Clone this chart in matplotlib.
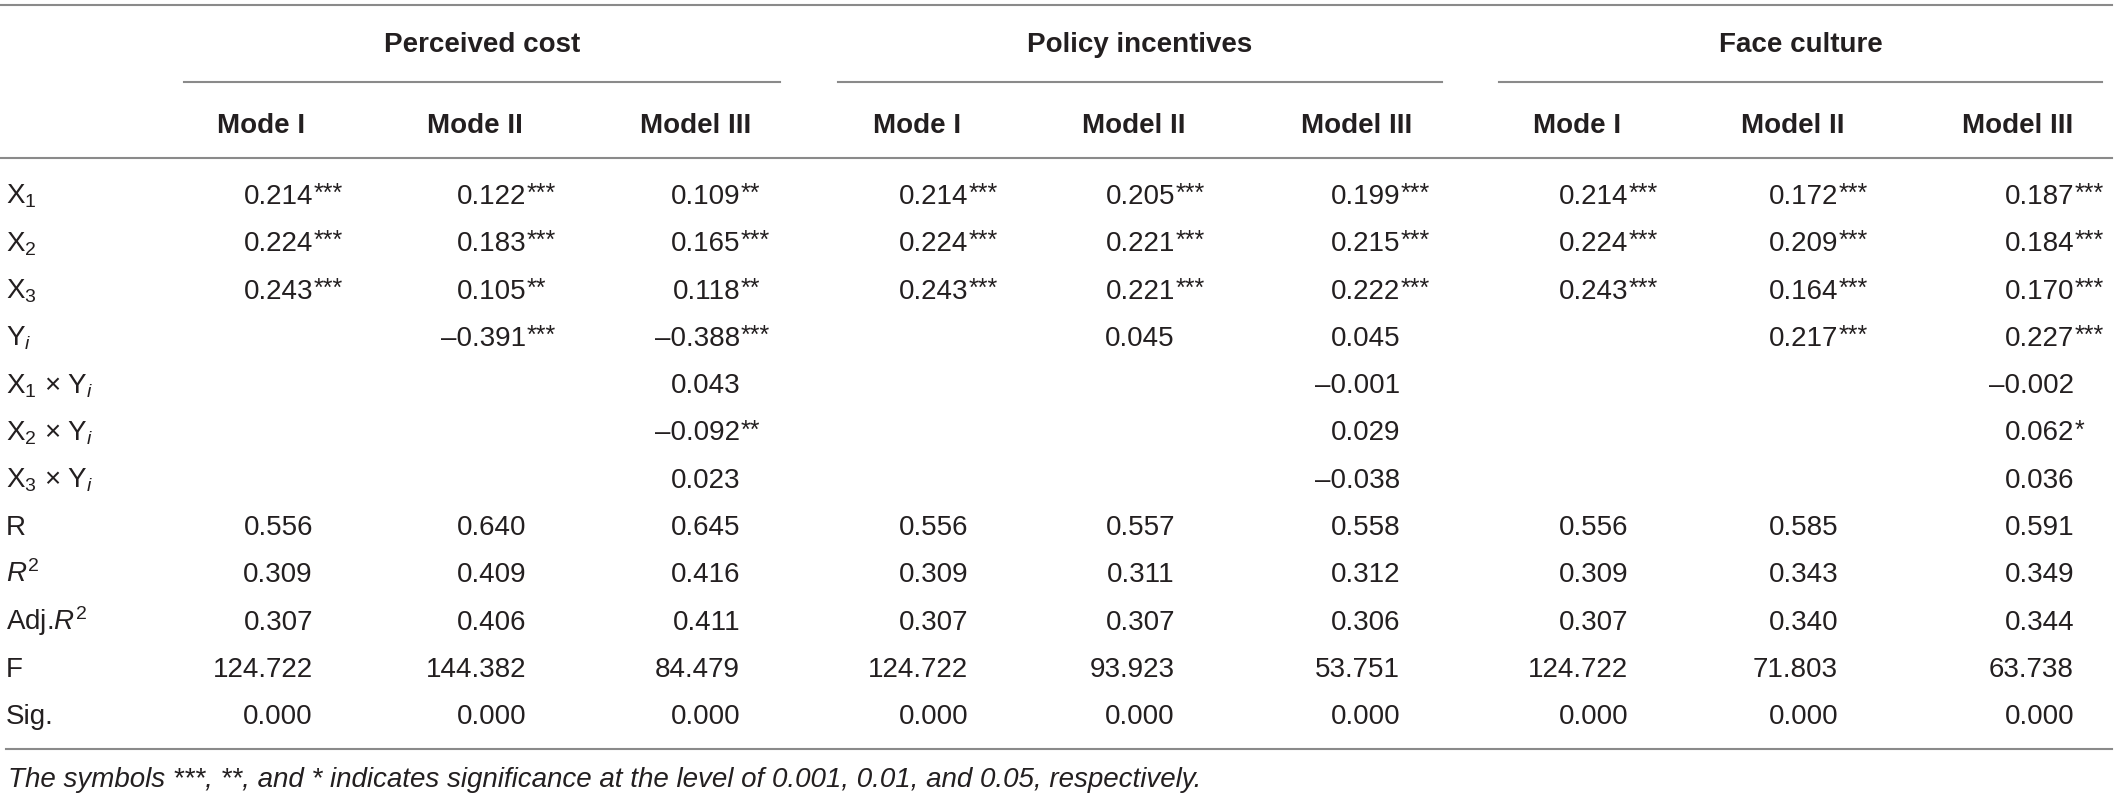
import matplotlib
matplotlib.use("Agg")
import matplotlib.pyplot as plt

# table content
groups = ["Perceived cost", "Policy incentives", "Face culture"]
models = ["Mode I", "Mode II", "Model III",
          "Mode I", "Model II", "Model III",
          "Mode I", "Model II", "Model III"]
row_labels = ["X$_1$", "X$_2$", "X$_3$", "Y$_i$",
              "X$_1$ \u00d7 Y$_i$", "X$_2$ \u00d7 Y$_i$", "X$_3$ \u00d7 Y$_i$",
              "R", "$R^2$", "Adj.$R^2$", "F", "Sig."]

# coefficients per model column (rows X1, X2, X3, Yi, X1xYi, X2xYi, X3xYi)
cost_coef = [[0.214, 0.224, 0.243, None, None, None, None],
             [0.122, 0.183, 0.105, -0.391, None, None, None],
             [0.109, 0.165, 0.118, -0.388, 0.043, -0.092, 0.023]]
cost_stars = [["***", "***", "***", "", "", "", ""],
              ["***", "***", "**", "***", "", "", ""],
              ["**", "***", "**", "***", "", "**", ""]]
policy_coef = [[0.214, 0.224, 0.243, None, None, None, None],
               [0.205, 0.221, 0.221, 0.045, None, None, None],
               [0.199, 0.215, 0.222, 0.045, -0.001, 0.029, -0.038]]
policy_stars = [["***", "***", "***", "", "", "", ""],
                ["***", "***", "***", "", "", "", ""],
                ["***", "***", "***", "", "", "", ""]]
face_coef = [[0.214, 0.224, 0.243, None, None, None, None],
             [0.172, 0.209, 0.164, 0.217, None, None, None],
             [0.187, 0.184, 0.170, 0.227, -0.002, 0.062, 0.036]]
face_stars = [["***", "***", "***", "", "", "", ""],
              ["***", "***", "***", "***", "", "", ""],
              ["***", "***", "***", "***", "", "*", ""]]

# model fit rows: R, R2, Adj.R2, F, Sig.
cost_fit = [[0.556, 0.309, 0.307, 124.722, 0.000],
            [0.640, 0.409, 0.406, 144.382, 0.000],
            [0.645, 0.416, 0.411, 84.479, 0.000]]
policy_fit = [[0.556, 0.309, 0.307, 124.722, 0.000],
              [0.557, 0.311, 0.307, 93.923, 0.000],
              [0.558, 0.312, 0.306, 53.751, 0.000]]
face_fit = [[0.556, 0.309, 0.307, 124.722, 0.000],
            [0.585, 0.343, 0.340, 71.803, 0.000],
            [0.591, 0.349, 0.344, 63.738, 0.000]]

note = ("The symbols ***, **, and * indicates significance at the level of "
        "0.001, 0.01, and 0.05, respectively.")

plt.rcParams["font.family"] = "Liberation Sans"
plt.rcParams["mathtext.fontset"] = "custom"
plt.rcParams["mathtext.rm"] = "Liberation Sans"
plt.rcParams["mathtext.it"] = "Liberation Sans:italic"
plt.rcParams["mathtext.bf"] = "Liberation Sans:bold"

W, H = 2118, 799
fig = plt.figure(figsize=(W / 100, H / 100), dpi=100)
ax = fig.add_axes([0, 0, 1, 1])
ax.set_xlim(0, W)
ax.set_ylim(H, 0)
ax.axis("off")

txt = "#231f20"
line_c = "#8a8a8a"
fs = 20

# layout (pixels)
col_right = [313, 526, 740, 968, 1175, 1400, 1628, 1838, 2074]
head_x = [261, 475, 696, 917, 1134, 1357, 1577, 1793, 2018]
group_span = [(184, 780), (838, 1442), (1499, 2102)]
row0, step = 204, 47.3

# rules
ax.plot([0, 2112], [5, 5], color=line_c, lw=1.5)
for a, b in group_span:
    ax.plot([a, b], [82, 82], color=line_c, lw=1.5)
ax.plot([0, 2112], [158, 158], color=line_c, lw=1.5)
ax.plot([6, 2112], [749, 749], color=line_c, lw=1.5)

# headers
for g, (a, b) in zip(groups, group_span):
    ax.text((a + b) / 2, 52, g, ha="center", va="baseline",
            fontsize=fs, fontweight="bold", color=txt)
for m, x in zip(models, head_x):
    ax.text(x, 133, m, ha="center", va="baseline",
            fontsize=fs, fontweight="bold", color=txt)

# row labels
for i, lab in enumerate(row_labels):
    ax.text(6, row0 + i * step, lab, ha="left", va="baseline",
            fontsize=fs, color=txt)


def fmt(v):
    s = "{:.3f}".format(abs(v))
    return ("\u2013" + s) if v < 0 else s


coefs = cost_coef + policy_coef + face_coef
stars = cost_stars + policy_stars + face_stars
fits = cost_fit + policy_fit + face_fit

for c in range(9):
    xr = col_right[c]
    for r, v in enumerate(coefs[c]):
        if v is None:
            continue
        y = row0 + r * step
        ax.text(xr, y, fmt(v), ha="right", va="baseline",
                fontsize=fs, color=txt)
        if stars[c][r]:
            ax.text(xr + 1, y - 3, stars[c][r], ha="left", va="baseline",
                    fontsize=fs - 2, color=txt)
    for r, v in enumerate(fits[c]):
        y = row0 + (7 + r) * step
        ax.text(xr, y, fmt(v), ha="right", va="baseline",
                fontsize=fs, color=txt)

ax.text(8, 787, note, ha="left", va="baseline", fontsize=fs,
        fontstyle="italic", color=txt)

fig.savefig("out.png", dpi=100)
